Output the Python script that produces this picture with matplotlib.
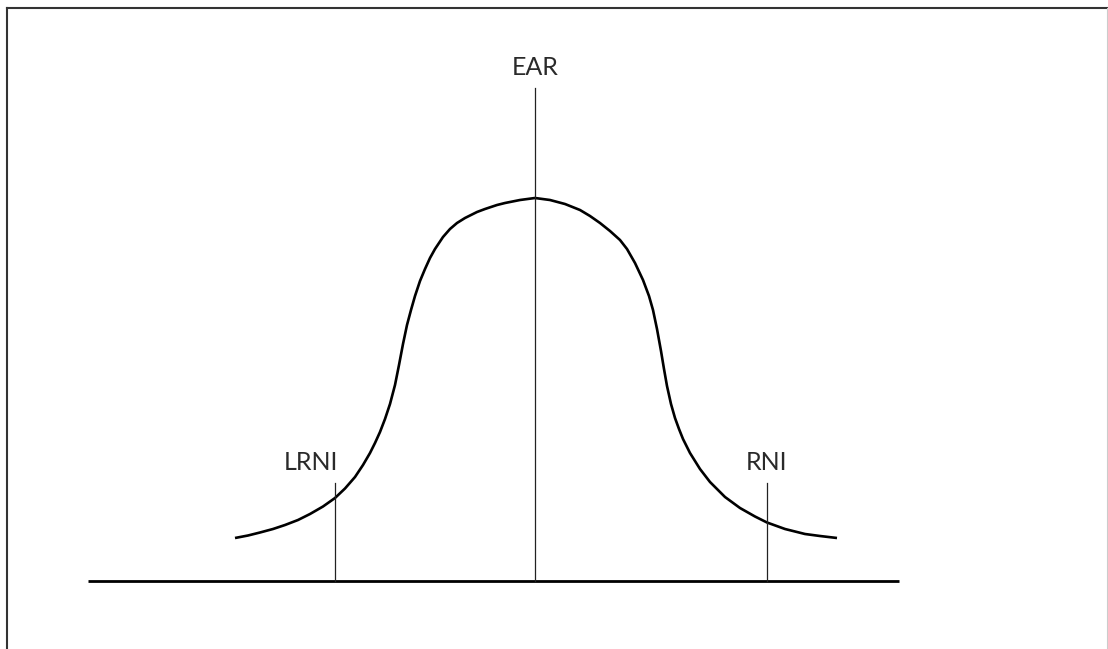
import numpy as np
import matplotlib.pyplot as plt
from matplotlib.lines import Line2D

plt.rcParams['font.family'] = ['Lato', 'DejaVu Sans']

# --- CURVE (position from centre, height above baseline) ---
left_x = [-300, -287, -275, -262, -250, -237, -225, -212, -200, -190, -180,
          -172, -165, -160, -155, -150, -145, -140, -136, -132, -128, -124,
          -120, -115, -110, -105, -100, -92, -85, -78, -70, -58, -50, -38,
          -30, -15, 0]
left_y = [43, 45.5, 48.5, 52, 56, 61, 67, 74.5, 83, 92.5, 104,
          116, 128, 138, 149, 162, 177, 196, 216, 237, 256, 271,
          285, 300, 312, 323, 332, 344, 352, 358, 363, 369, 372, 376,
          378, 381, 383]
right_x = [15, 30, 45, 55, 65, 75, 85, 92, 100, 108, 114, 118, 122, 126,
           129, 132, 136, 140, 144, 148, 155, 165, 175, 190, 205, 220, 232,
           250, 270, 285, 302]
right_y = [381, 377, 371, 365, 358, 350, 341, 332, 318, 301, 285, 271, 252, 230,
           212, 195, 177, 163, 152, 142, 128, 112, 99, 84, 73, 64.5, 58.5,
           52, 47, 45, 43]
curve_x = left_x + right_x
curve_y = left_y + right_y

# --- MARKERS ---
marker_x = [-200, 0, 232]
marker_top = [98, 493, 98]
marker_labels = ['LRNI', 'EAR', 'RNI']
baseline_x = [-447, 364]

fig = plt.figure(figsize=(11.08, 6.49), dpi=100)
ax = fig.add_axes([0, 0, 1, 1])
ax.set_xlim(-535, 1108 - 535)
ax.set_ylim(581 - 649, 581)
ax.axis('off')

# baseline
ax.plot(baseline_x, [0, 0], color='black', lw=2.0, solid_capstyle='butt')
# bell curve
ax.plot(curve_x, curve_y, color='black', lw=1.9, solid_capstyle='butt',
        solid_joinstyle='round')

# vertical markers + labels
for x, top, lab in zip(marker_x, marker_top, marker_labels):
    ax.plot([x, x], [0, top], color='#222222', lw=0.9)
    if lab == 'LRNI':
        ax.text(x + 3, top + 9, lab, ha='right', va='bottom', fontsize=18,
                fontweight='normal', color='#2a2a2a')
    else:
        ax.text(x, top + 9, lab, ha='center', va='bottom', fontsize=18,
                fontweight='normal', color='#2a2a2a')

# frame around the figure (left, top, right)
fig.add_artist(Line2D([7 / 1108, 7 / 1108], [0, 1 - 8 / 649],
                      transform=fig.transFigure, color='#333333', lw=1.5))
fig.add_artist(Line2D([7 / 1108, 1], [1 - 8 / 649, 1 - 8 / 649],
                      transform=fig.transFigure, color='#333333', lw=1.5))
fig.add_artist(Line2D([1107 / 1108, 1107 / 1108], [0, 1 - 8 / 649],
                      transform=fig.transFigure, color='#cccccc', lw=0.8))

fig.savefig('out.png', dpi=100)
